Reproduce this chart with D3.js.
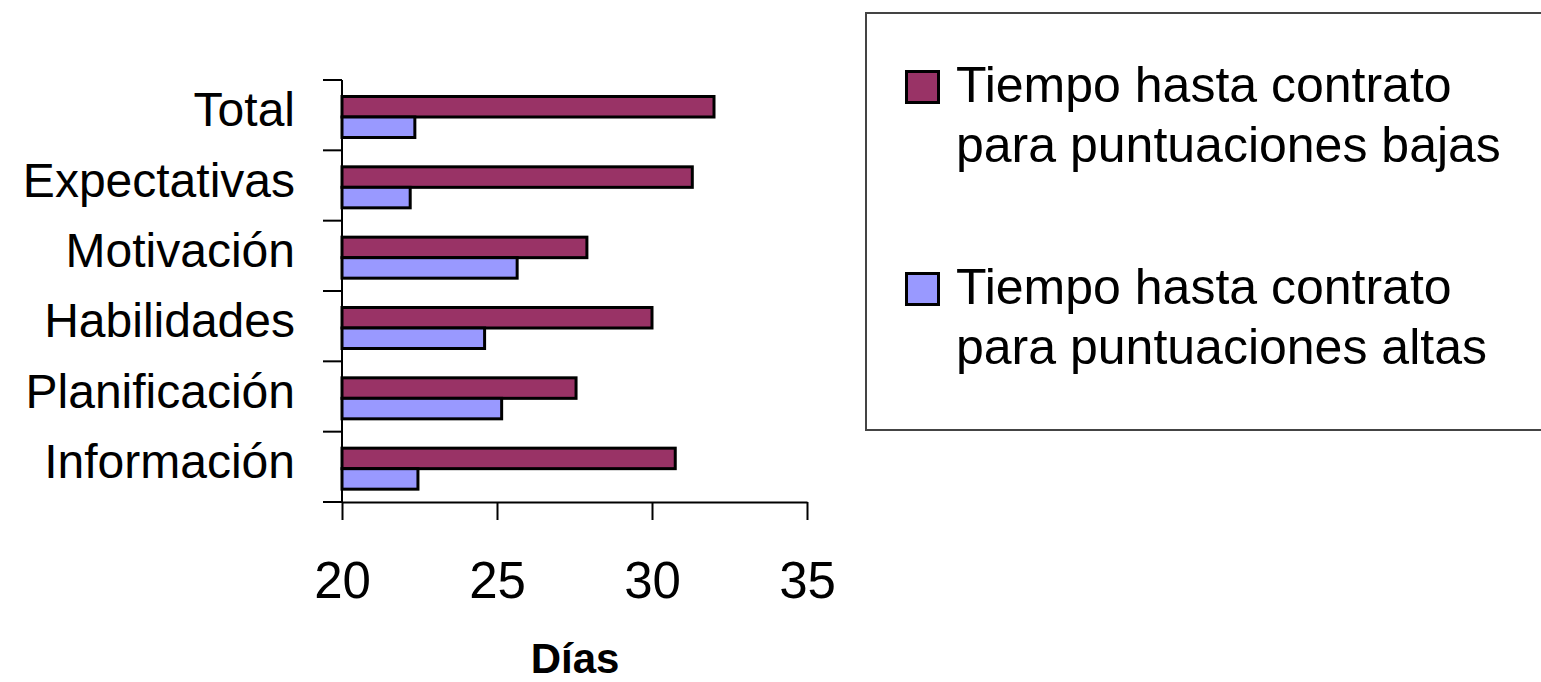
<!DOCTYPE html>
<html>
<head>
<meta charset="utf-8">
<script src="https://cdn.jsdelivr.net/npm/d3@7"></script>
<style>
  html, body { margin: 0; padding: 0; background: #fff; }
  svg { display: block; }
  text { font-family: "Liberation Sans", Arial, sans-serif; fill: #000; }
</style>
</head>
<body>
<svg id="chart" width="1541" height="682"></svg>
<script>
// ---- Data ----
const categories = ["Total", "Expectativas", "Motivación", "Habilidades", "Planificación", "Información"];
const seriesNames = ["Tiempo hasta contrato para puntuaciones bajas", "Tiempo hasta contrato para puntuaciones altas"];
const legendLines = [["Tiempo hasta contrato", "para puntuaciones bajas"], ["Tiempo hasta contrato", "para puntuaciones altas"]];
const lowScores  = [32.0, 31.3, 27.9, 30.0, 27.55, 30.75];
const highScores = [22.35, 22.2, 25.65, 24.6, 25.15, 22.45];
const xTicks = [20, 25, 30, 35];
const xTitle = "Días";
const colors = ["#993366", "#9999FF"];

// ---- Layout ----
const svg = d3.select("#chart");
const plotLeft = 342, plotRight = 807, plotTop = 80, plotBottom = 502;

const x = d3.scaleLinear().domain([20, 35]).range([plotLeft, plotRight]);
const y = d3.scaleBand().domain(categories).range([plotTop, plotBottom]).paddingInner(0).paddingOuter(0);
const sub = d3.scaleBand().domain(seriesNames).range([16.5, 57.5]);

const series = [lowScores, highScores];

// Bars
series.forEach((vals, si) => {
  svg.append("g").selectAll("rect")
    .data(categories.map((c, i) => ({ c, v: vals[i] })))
    .join("rect")
    .attr("x", x(20))
    .attr("y", d => y(d.c) + sub(seriesNames[si]))
    .attr("width", d => x(d.v) - x(20))
    .attr("height", sub.bandwidth())
    .attr("fill", colors[si])
    .attr("stroke", "#000")
    .attr("stroke-width", 3);
});

// Y axis line + ticks at band boundaries
const yAxis = svg.append("g");
yAxis.append("line")
  .attr("x1", plotLeft).attr("x2", plotLeft)
  .attr("y1", plotTop).attr("y2", plotBottom)
  .attr("stroke", "#000").attr("stroke-width", 2);
const boundaries = categories.map(c => y(c)).concat([plotBottom]);
yAxis.selectAll("line.t").data(boundaries).join("line")
  .attr("class", "t")
  .attr("x1", plotLeft - 19).attr("x2", plotLeft)
  .attr("y1", d => d).attr("y2", d => d)
  .attr("stroke", "#000").attr("stroke-width", 2);

// Category labels
svg.append("g").selectAll("text").data(categories).join("text")
  .attr("x", 295)
  .attr("y", d => y(d) + y.bandwidth() / 2 + 11)
  .attr("text-anchor", "end")
  .style("font-size", "48px")
  .text(d => d);

// X axis via d3.axisBottom
const xAxisG = svg.append("g")
  .attr("transform", `translate(0,${plotBottom})`)
  .call(d3.axisBottom(x).tickValues(xTicks).tickSize(18).tickSizeOuter(0).tickPadding(42));
xAxisG.select(".domain").attr("stroke", "#000").attr("stroke-width", 2);
xAxisG.selectAll(".tick line").attr("stroke", "#000").attr("stroke-width", 2);
xAxisG.selectAll(".tick text")
  .style("font-size", "51px")
  .style("font-family", "'Liberation Sans', Arial, sans-serif")
  .attr("fill", "#000");

// X title
svg.append("text")
  .attr("x", 575).attr("y", 673)
  .attr("text-anchor", "middle")
  .style("font-size", "42px")
  .style("font-weight", "bold")
  .text(xTitle);

// Legend
const legend = svg.append("g");
legend.append("rect")
  .attr("x", 866).attr("y", 13)
  .attr("width", 700).attr("height", 417)
  .attr("fill", "#fff")
  .attr("stroke", "#444").attr("stroke-width", 2);
const legendY = [70, 272];
seriesNames.forEach((s, i) => {
  legend.append("rect")
    .attr("x", 906.5).attr("y", legendY[i] + 1.5)
    .attr("width", 32).attr("height", 31)
    .attr("fill", colors[i])
    .attr("stroke", "#000").attr("stroke-width", 3);
  legendLines[i].forEach((ln, j) => {
    legend.append("text")
      .attr("x", 956)
      .attr("y", legendY[i] + 32 + j * 60)
      .style("font-size", "50px")
      .text(ln);
  });
});
</script>
</body>
</html>
